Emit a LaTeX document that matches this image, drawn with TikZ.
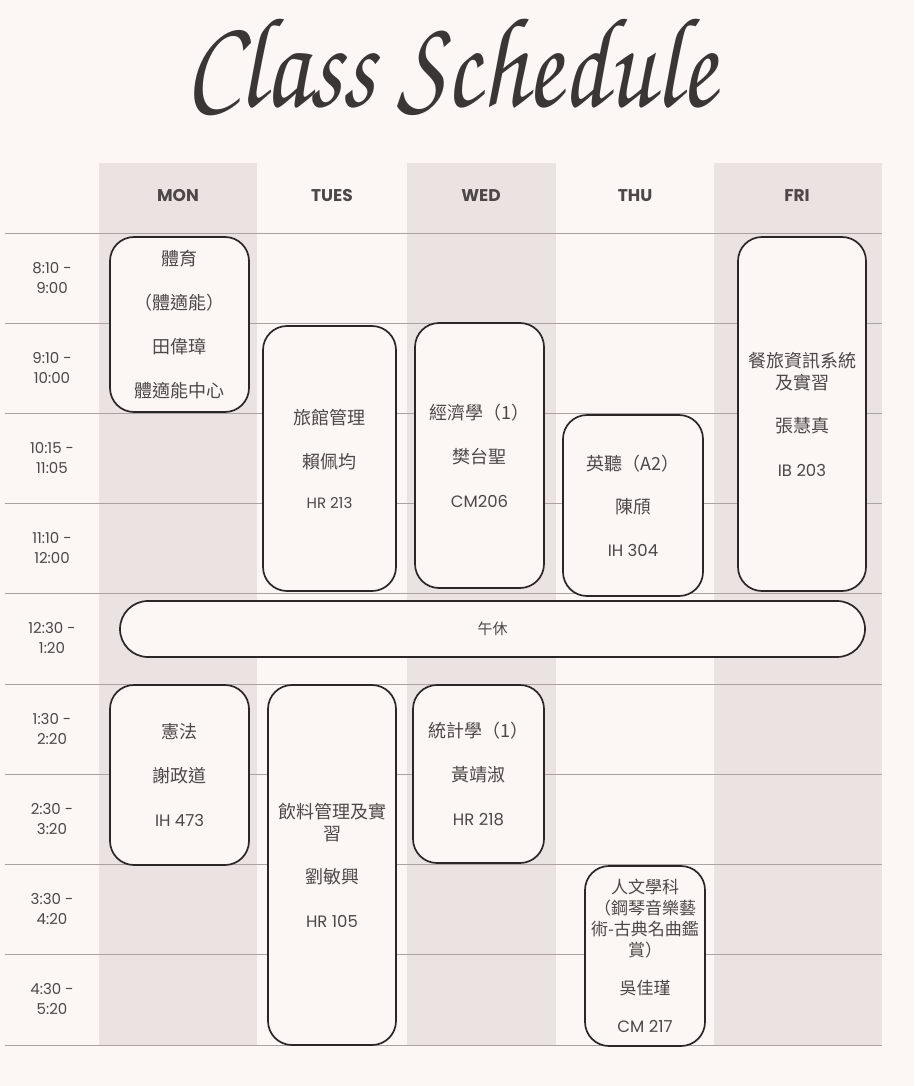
\documentclass[tikz,border=0pt]{standalone}
\usepackage[T1]{fontenc}
\usepackage{fontspec}
\setmainfont{Poppins}
\newfontfamily\cjk{Noto Sans CJK TC}
\newcommand\scriptface{\fontencoding{T1}\fontfamily{pzc}\fontseries{mb}\fontshape{it}\selectfont}
\usetikzlibrary{positioning}
\definecolor{paper}{HTML}{FCF6F4}
\definecolor{daytint}{HTML}{EBE3E1}
\definecolor{rulegray}{HTML}{A9A4A2}
\definecolor{ink}{HTML}{4D4747}
\definecolor{edge}{HTML}{2C2727}
\definecolor{titleink}{HTML}{3A3636}
\tikzset{
	rule/.style={draw=rulegray,line width=0.8pt},
	dayhead/.style={text=ink,font=\bfseries\fontsize{17}{20}\selectfont},
	slot/.style={text=ink,align=center,font=\fontsize{15}{20}\selectfont},
	cls/.style={draw=edge,line width=1.7pt,fill=paper,rounded corners=24pt,
		align=center,text=ink,inner sep=0pt,font=\cjk\fontsize{18}{22}\selectfont}
}
\newcommand\roomno[1]{{\normalfont\fontsize{16.5}{20}\selectfont #1}}
\begin{document}
\begin{tikzpicture}[x=1pt,y=-1pt]
	\fill[paper] (0,0) rectangle (914,1086);
	\useasboundingbox (0,0) rectangle (914,1086);
	% shaded days
	\foreach \l/\r in {99/257,407/556,714/882}
		\fill[daytint] (\l,163) rectangle (\r,1046);
	% time rules
	\foreach \y in {233,323,413,503,593,684,774,864,954,1045}
		\draw[rule] (5,\y) -- (882,\y);

	\node[text=titleink] (title) at (451,65) {\scalebox{1.13}[1.4]{\fontsize{92}{92}\scriptface Class Schedule}};

	\node[dayhead] (mon) at (178,196) {MON};
	\node[dayhead] (tue) at (332,196) {TUES};
	\node[dayhead] (wed) at (481,196) {WED};
	\node[dayhead] (thu) at (635,196) {THU};
	\node[dayhead] (fri) at (797,196) {FRI};

	\foreach \n/\y/\a/\b in {1/278/8:10 -/9:00,2/368/9:10 -/10:00,3/458/10:15 -/11:05,
		4/548/11:10 -/12:00,5/638.5/12:30 -/1:20,6/729/1:30 -/2:20,
		7/819/2:30 -/3:20,8/909/3:30 -/4:20,9/999.5/4:30 -/5:20}
		\node[slot] (slot\n) at (52,\y) {\a\\\b};

	% morning
	\node[cls,minimum width=139pt,minimum height=175pt] (pe) at (179.5,324.5)
		{體育\\[22pt]（體適能）\\[22pt]田偉璋\\[22pt]體適能中心};
	\node[cls,minimum width=133pt,minimum height=265pt] (hotel) at (329.5,458.5)
		{旅館管理\\[22pt]賴佩均\\[18pt]{\normalfont\fontsize{15}{18}\selectfont HR 213}};
	\node[cls,minimum width=129pt,minimum height=265pt] (econ) at (479.5,455.5)
		{經濟學（1）\\[22pt]樊台聖\\[22pt]\roomno{CM206}};
	\node[cls,minimum width=140pt,minimum height=181pt] (engl) at (633,505.5)
		{英聽（A2）\\[21pt]陳頎\\[21pt]\roomno{IH 304}};
	\node[cls,minimum width=128pt,minimum height=354pt] (info) at (802,414)
		{餐旅資訊系統\\及實習\\[21pt]張慧真\\[22pt]\roomno{IB 203}};

	\node[cls,rounded corners=28pt,minimum width=745pt,minimum height=56pt,
		font=\cjk\fontsize{15}{18}\selectfont] (lunch) at (492.5,629) {午休};

	% afternoon
	\node[cls,minimum width=139pt,minimum height=180pt] (law) at (179.5,775)
		{憲法\\[22pt]謝政道\\[22pt]\roomno{IH 473}};
	\node[cls,minimum width=128pt,minimum height=360pt] (bev) at (332,865)
		{飲料管理及實\\習\\[21pt]劉敏興\\[22pt]\roomno{HR 105}};
	\node[cls,minimum width=131pt,minimum height=178pt] (stat) at (478.5,774)
		{統計學（1）\\[22pt]黃靖淑\\[22pt]\roomno{HR 218}};
	\node[cls,minimum width=120pt,minimum height=180pt,font=\cjk\fontsize{17}{21}\selectfont] (human) at (645,956)
		{人文學科\\（鋼琴音樂藝\\術-古典名曲鑑\\賞）\\[17pt]吳佳瑾\\[17pt]\roomno{CM 217}};
\end{tikzpicture}
\end{document}
